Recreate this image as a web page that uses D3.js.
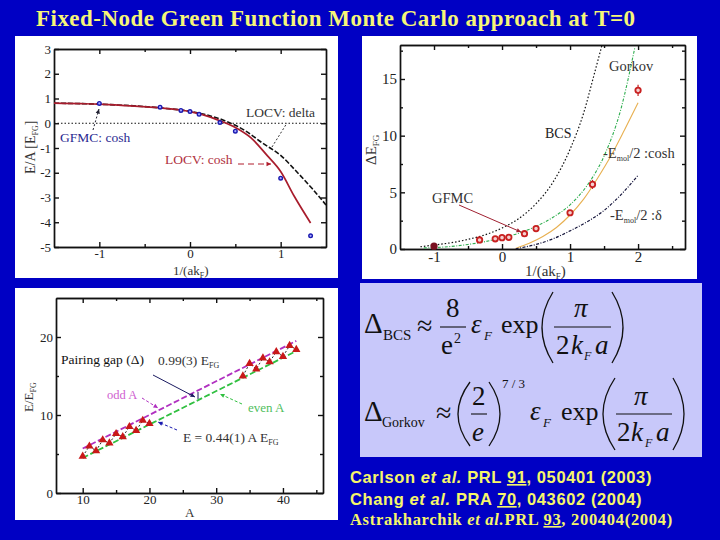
<!DOCTYPE html>
<html>
<head>
<meta charset="utf-8">
<title>Fixed-Node Green Function Monte Carlo</title>
<script src="https://cdn.jsdelivr.net/npm/d3@7/dist/d3.min.js"></script>
<style>
  html, body { margin: 0; padding: 0; background: #0000c4; }
  svg { display: block; }
  text { font-family: "Liberation Serif", serif; }
</style>
</head>
<body>
<svg id="slide" width="720" height="540"></svg>
<script>
// top left: energy per particle vs 1/(ak_F)
var gfmcX = [-1, -0.33, -0.1, 0, 0.1, 0.33, 0.5, 1, 1.33];
var gfmcY = [0.8, 0.65, 0.52, 0.47, 0.36, 0.03, -0.32, -2.22, -4.55];
var cuspCoshX = [-1.5, -1.2, -1, -0.7, -0.33, 0, 0.2, 0.33, 0.5, 0.67, 0.85, 1, 1.15, 1.33];
var cuspCoshY = [0.81, 0.79, 0.77, 0.71, 0.62, 0.47, 0.28, 0.1, -0.17, -0.58, -1.3, -1.95, -2.95, -4.03];
var locvDeltaX = [-1.5, -1, -0.33, 0, 0.2, 0.4, 0.6, 0.8, 1, 1.2, 1.35, 1.5];
var locvDeltaY = [0.81, 0.77, 0.62, 0.48, 0.32, 0.08, -0.28, -0.8, -1.3, -2.05, -2.65, -3.3];

// top right: pairing gap
var gapX = [-1, -0.33, -0.1, 0, 0.1, 0.33, 0.5, 1, 1.33, 2];
var gapY = [0.25, 0.8, 0.9, 1, 1.03, 1.35, 1.8, 3.2, 5.7, 14];
var gapErr = [0.1, 0.15, 0.1, 0.1, 0.1, 0.15, 0.2, 0.2, 0.4, 0.5];
var bcsX = [-1.2, -1, -0.75, -0.5, -0.25, 0, 0.25, 0.5, 0.75, 1, 1.2, 1.35, 1.47];
var bcsY = [0.2, 0.35, 0.55, 0.85, 1.25, 1.85, 2.7, 4, 5.9, 8.8, 12, 15.3, 18];
var gorkovX = [-1.15, -0.8, -0.5, -0.25, 0, 0.25, 0.5, 0.75, 1, 1.25, 1.5, 1.75, 1.95];
var gorkovY = [0.1, 0.2, 0.4, 0.65, 1, 1.4, 2, 2.8, 3.9, 5.6, 8.2, 12.4, 17.7];
var coshX = [0.2, 0.4, 0.6, 0.8, 1, 1.2, 1.4, 1.6, 1.8, 2];
var coshY = [0.05, 0.5, 1.1, 1.9, 3, 4.4, 6.2, 8.2, 10.5, 12.9];
var deltaX = [0.2, 0.5, 0.75, 1, 1.25, 1.5, 1.75, 2];
var deltaY = [0.02, 0.4, 0.9, 1.6, 2.4, 3.4, 4.8, 6.5];

// bottom left: ground state energy vs A
var evenA = [10, 12, 14, 16, 18, 20, 34, 36, 38, 40, 42];
var evenE = [4.7, 5.4, 6.4, 7.2, 8, 8.9, 15, 15.9, 16.8, 17.5, 18.4];
var oddA = [11, 13, 15, 17, 19, 35, 37, 39, 41];
var oddE = [6, 6.8, 7.6, 8.5, 9.3, 16.6, 17.3, 18.1, 18.9];
var evenFitA = [10, 42];
var evenFitE = [4.5, 18.2];
var oddFitA = [10, 42];
var oddFitE = [5.7, 19.5];
var zigzagA = [10, 11, 12, 13, 14, 15, 16, 17, 18, 19, 20];
var zigzagE = [4.7, 6, 5.4, 6.8, 6.4, 7.6, 7.2, 8.5, 8, 9.3, 8.9];
var zigzagA2 = [34, 35, 36, 37, 38, 39, 40, 41, 42];
var zigzagE2 = [15, 16.6, 15.9, 17.3, 16.8, 18.1, 17.5, 18.9, 18.4];

var tlXTicks = [-1, 0, 1];
var tlXMinor = [-0.5, 0.5];
var tlYTicks = [-5, -4, -3, -2, -1, 0, 1, 2, 3];
var trXTicks = [-1, 0, 1, 2];
var trXMinor = [-0.5, 0.5, 1.5, 2.5];
var trYTicks = [0, 5, 10, 15];
var trYMinor = [2.5, 7.5, 12.5, 17.5];
var blXTicks = [10, 20, 30, 40];
var blXMinor = [15, 25, 35, 45];
var blYTicks = [0, 10, 20];
var blYMinor = [5, 15];

var citations = [
  {y: 483, size: 16.5, spacing: 0.6, sans: true, parts: ["Carlson ", "et al.", " PRL ", "91", ", 050401 (2003)"]},
  {y: 505, size: 16.5, spacing: 0.6, sans: true, parts: ["Chang ", "et al.", "  PRA ", "70", ", 043602 (2004)"]},
  {y: 525, size: 16.5, spacing: 0.7, sans: false, parts: ["Astrakharchik ", "et al.", "PRL ", "93", ", 200404(2004)"]}
];

var svg = d3.select("#slide");

svg.append("text").attr("x", 36).attr("y", 26)
  .attr("fill", "#f6f678").attr("font-size", 23).attr("font-weight", "bold")
  .style("letter-spacing", "0.47px")
  .text("Fixed-Node Green Function Monte Carlo approach at T=0");

// draws white card, frame, axes; returns the scales and a group
function panel(card, box, xDom, yDom, xTicks, yTicks, xMinor, yMinor, fontSize) {
  svg.append("rect").attr("x", card[0]).attr("y", card[1])
    .attr("width", card[2]).attr("height", card[3]).attr("fill", "#fff");
  var x = d3.scaleLinear().domain(xDom).range([box[0], box[2]]);
  var y = d3.scaleLinear().domain(yDom).range([box[3], box[1]]);
  var g = svg.append("g");
  function ax(gen, tx, ty) {
    var a = g.append("g").attr("transform", "translate(" + tx + "," + ty + ")").call(gen);
    a.selectAll("path,line").attr("stroke", "#111").attr("stroke-width", 1.4);
    a.selectAll("text").attr("font-size", fontSize).attr("fill", "#222")
      .style("font-family", '"Liberation Serif", serif');
    return a;
  }
  var hyphen = function(d) { return String(d); };
  ax(d3.axisBottom(x).tickValues(xTicks).tickSize(-5).tickSizeOuter(0).tickPadding(2).tickFormat(hyphen), 0, box[3]);
  ax(d3.axisLeft(y).tickValues(yTicks).tickSize(-5).tickSizeOuter(0).tickPadding(3).tickFormat(hyphen), box[0], 0);
  ax(d3.axisTop(x).tickValues(xTicks).tickSize(-5).tickSizeOuter(0).tickFormat(""), 0, box[1]);
  ax(d3.axisRight(y).tickValues(yTicks).tickSize(-5).tickSizeOuter(0).tickFormat(""), box[2], 0);
  ax(d3.axisBottom(x).tickValues(xMinor).tickSize(-3).tickSizeOuter(0).tickFormat(""), 0, box[3]);
  ax(d3.axisTop(x).tickValues(xMinor).tickSize(-3).tickSizeOuter(0).tickFormat(""), 0, box[1]);
  ax(d3.axisLeft(y).tickValues(yMinor).tickSize(-3).tickSizeOuter(0).tickFormat(""), box[0], 0);
  ax(d3.axisRight(y).tickValues(yMinor).tickSize(-3).tickSizeOuter(0).tickFormat(""), box[2], 0);
  return {x: x, y: y, g: g};
}

function curve(p, xs, ys, color, width, dash, smooth) {
  var line = d3.line().x(function(d) { return p.x(d[0]); }).y(function(d) { return p.y(d[1]); });
  if (smooth) line.curve(d3.curveMonotoneX);
  p.g.append("path").datum(d3.zip(xs, ys)).attr("d", line)
    .attr("fill", "none").attr("stroke", color).attr("stroke-width", width)
    .attr("stroke-dasharray", dash);
}

function label(p, px, py, str, size, color, extra) {
  var t = p.g.append("text").attr("x", px).attr("y", py).attr("font-size", size).attr("fill", color);
  t.text(str);
  if (extra) extra(t);
  return t;
}

function sub(t, s, size) {
  t.append("tspan").attr("dy", 3).attr("font-size", size).text(s);
}

function arrow(p, x1, y1, x2, y2, color, dash) {
  p.g.append("line").attr("x1", x1).attr("y1", y1).attr("x2", x2).attr("y2", y2)
    .attr("stroke", color).attr("stroke-width", 1).attr("stroke-dasharray", dash);
  var a = Math.atan2(y2 - y1, x2 - x1), s = 5;
  var pts = [[x2, y2],
    [x2 - s * Math.cos(a - 0.45), y2 - s * Math.sin(a - 0.45)],
    [x2 - s * Math.cos(a + 0.45), y2 - s * Math.sin(a + 0.45)]];
  p.g.append("polygon").attr("points", pts.join(" ")).attr("fill", color);
}

// top left panel
var tl = panel([15, 36, 323, 242], [54, 49, 326, 247], [-1.5, 1.5], [-5, 3], tlXTicks, tlYTicks, tlXMinor, [], 13);
tl.g.append("line").attr("x1", tl.x(-1.5)).attr("x2", tl.x(1.5)).attr("y1", tl.y(0)).attr("y2", tl.y(0))
  .attr("stroke", "#111").attr("stroke-dasharray", "1.5,2");
curve(tl, locvDeltaX, locvDeltaY, "#111", 1.6, "5,2", true);
curve(tl, cuspCoshX, cuspCoshY, "#a81c2c", 1.7, null, true);
tl.g.selectAll("circle.gfmc").data(d3.zip(gfmcX, gfmcY)).enter().append("circle").attr("class", "gfmc")
  .attr("cx", function(d) { return tl.x(d[0]); }).attr("cy", function(d) { return tl.y(d[1]); })
  .attr("r", 1.8).attr("fill", "#a8a8ff").attr("stroke", "#1a1ab0").attr("stroke-width", 1.4);
label(tl, 246, 117, "LOCV: delta", 13.5, "#333");
label(tl, 60, 142, "GFMC: cosh", 13.5, "#2a2a90");
label(tl, 165, 164, "LOCV: cosh", 13.5, "#b03040");
arrow(tl, 238, 164, 271, 164, "#b01c2c", "6,4");
arrow(tl, 93, 130, 99, 109, "#223", "2,2");
tl.g.append("line").attr("x1", 272).attr("y1", 147).attr("x2", 287).attr("y2", 123)
  .attr("stroke", "#333").attr("stroke-dasharray", "2,2");
label(tl, 173, 275, "1/(ak", 13, "#333", function(t) { sub(t, "F", 8); t.append("tspan").attr("dy", -3).text(")"); });
label(tl, 0, 0, "E/A [E", 14, "#333", function(t) {
  t.attr("transform", "translate(35,174) rotate(-90)");
  sub(t, "FG", 8); t.append("tspan").attr("dy", -3).text("]");
});

// top right panel
var tr = panel([362, 36, 335, 243], [400, 45, 685, 249], [-1.5, 2.69], [0, 18], trXTicks, trYTicks, trXMinor, trYMinor, 15);
curve(tr, bcsX, bcsY, "#111", 1.2, "1.5,2", true);
curve(tr, gorkovX, gorkovY, "#2fae4f", 1.1, "3,1.5,1,1.5", true);
curve(tr, coshX, coshY, "#e8b050", 1.1, null, true);
curve(tr, deltaX, deltaY, "#16163c", 1.2, "3,1.5,1,1.5", true);
tr.g.selectAll("line.err").data(d3.zip(gapX, gapY, gapErr)).enter().append("line").attr("class", "err")
  .attr("x1", function(d) { return tr.x(d[0]); }).attr("x2", function(d) { return tr.x(d[0]); })
  .attr("y1", function(d) { return tr.y(d[1] - d[2]); }).attr("y2", function(d) { return tr.y(d[1] + d[2]); })
  .attr("stroke", "#c42020").attr("stroke-width", 1.2);
tr.g.selectAll("circle.gap").data(d3.zip(gapX, gapY)).enter().append("circle").attr("class", "gap")
  .attr("cx", function(d) { return tr.x(d[0]); }).attr("cy", function(d) { return tr.y(d[1]); })
  .attr("r", 2.7).attr("fill", function(d) { return d[0] == -1 ? "#7a1020" : "#f4d0d0"; })
  .attr("stroke", function(d) { return d[0] == -1 ? "#7a1020" : "#c82020"; }).attr("stroke-width", 1.8);
label(tr, 609, 71, "Gorkov", 14.5, "#333");
label(tr, 545, 138, "BCS", 14, "#222");
label(tr, 603, 158, "-E", 14.5, "#333", function(t) {
  sub(t, "mol", 8); t.append("tspan").attr("dy", -3).text("/2 :cosh");
});
label(tr, 610, 220, "-E", 14.5, "#333", function(t) {
  sub(t, "mol", 8); t.append("tspan").attr("dy", -3).text("/2 :δ");
});
label(tr, 432, 203, "GFMC", 14.5, "#333");
arrow(tr, 459, 205, 521, 232, "#a02030", null);
label(tr, 525, 276, "1/(ak", 15, "#333", function(t) { sub(t, "F", 9); t.append("tspan").attr("dy", -3).text(")"); });
label(tr, 0, 0, "ΔE", 15, "#333", function(t) {
  t.attr("transform", "translate(376,165) rotate(-90)");
  sub(t, "FG", 9);
});

// bottom left panel
var bl = panel([15, 288, 323, 232], [56, 298, 323, 493], [6, 46], [0, 25], blXTicks, blYTicks, blXMinor, blYMinor, 13);
curve(bl, evenFitA, evenFitE, "#30c040", 1.8, "6,2.5", false);
curve(bl, oddFitA, oddFitE, "#b030c0", 1.8, "6,2.5", false);
curve(bl, zigzagA, zigzagE, "#111", 0.9, "2,2", false);
curve(bl, zigzagA2, zigzagE2, "#111", 0.9, "2,2", false);
var tri = d3.symbol().type(d3.symbolTriangle).size(30);
bl.g.selectAll("path.mark").data(d3.zip(evenA.concat(oddA), evenE.concat(oddE))).enter().append("path").attr("class", "mark")
  .attr("d", tri)
  .attr("transform", function(d) { return "translate(" + bl.x(d[0]) + "," + bl.y(d[1]) + ")"; })
  .attr("fill", "#c81818");
label(bl, 61, 364, "Pairing gap (Δ)", 13.5, "#111");
label(bl, 158, 365, "0.99(3) E", 13.5, "#333", function(t) { sub(t, "FG", 8); });
label(bl, 107, 399, "odd A", 12.5, "#d060d0");
label(bl, 248, 412, "even A", 13, "#50c060");
label(bl, 183, 442, "E = 0.44(1) A E", 13.5, "#333", function(t) { sub(t, "FG", 8); });
arrow(bl, 142, 398, 158, 408, "#b030c0", "3,2");
arrow(bl, 242, 404, 220, 394, "#30c040", "3,2");
arrow(bl, 177, 430, 158, 422, "#1a1ab0", "3,2");
arrow(bl, 153, 375, 195, 397, "#1a1a60", null);
bl.g.append("line").attr("x1", 198).attr("x2", 198).attr("y1", 392).attr("y2", 399).attr("stroke", "#1a1a60");
label(bl, 185, 517, "A", 13, "#333");
label(bl, 0, 0, "E/E", 13, "#333", function(t) {
  t.attr("transform", "translate(33,412) rotate(-90)");
  sub(t, "FG", 8);
});

// formula panel
svg.append("rect").attr("x", 360).attr("y", 283).attr("width", 342).attr("height", 174).attr("fill", "#c8c8fa");
function math(px, py, str, size, style) {
  return svg.append("text").attr("x", px).attr("y", py).attr("font-size", size).attr("fill", "#111")
    .attr("font-style", style || "normal").text(str);
}
function rule(x1, x2, y1) {
  svg.append("line").attr("x1", x1).attr("x2", x2).attr("y1", y1).attr("y2", y1).attr("stroke", "#111").attr("stroke-width", 1.1);
}
// xEnd is where the tips sit, xMid where the bow reaches
function paren(xEnd, xMid, y0, y1) {
  var ctrl = 2 * xMid - xEnd;
  svg.append("path").attr("d", "M" + xEnd + "," + y0 + "Q" + ctrl + "," + ((y0 + y1) / 2) + " " + xEnd + "," + y1)
    .attr("fill", "none").attr("stroke", "#111").attr("stroke-width", 1.3);
}
math(364, 333, "Δ", 29);
math(383, 340, "BCS", 15);
math(417, 335, "≈", 28);
math(446, 317, "8", 27);
rule(440, 466, 327);
math(441, 354, "e", 27);
math(454, 343, "2", 14);
math(471, 333, "ε", 27, "italic");
math(484, 340, "F", 13, "italic");
math(501, 333, "exp", 26);
paren(553, 542, 292, 363);
math(574, 317, "π", 27, "italic");
rule(554, 611, 327);
math(556, 354, "2", 27);
math(571, 354, "k", 27, "italic");
math(584, 360, "F", 12, "italic");
math(595, 354, "a", 27, "italic");
paren(612, 623, 292, 363);

math(364, 421, "Δ", 29);
math(382, 427, "Gorkov", 14);
math(436, 422, "≈", 28);
paren(470, 458, 382, 446);
math(472, 405, "2", 27);
rule(471, 487, 414);
math(472, 441, "e", 27, "italic");
paren(489, 500, 382, 446);
math(502, 388, "7 / 3", 13);
math(530, 420, "ε", 27, "italic");
math(543, 427, "F", 13, "italic");
math(561, 420, "exp", 26);
paren(615, 603, 378, 450);
math(634, 405, "π", 27, "italic");
rule(616, 672, 414);
math(617, 441, "2", 27);
math(631, 441, "k", 27, "italic");
math(645, 447, "F", 12, "italic");
math(656, 441, "a", 27, "italic");
paren(673, 684, 378, 450);

// citations
citations.forEach(function(c) {
  var t = svg.append("text").attr("x", 350).attr("y", c.y).attr("fill", "#f6f66a")
    .attr("font-size", c.size).attr("font-weight", "bold")
    .style("letter-spacing", c.spacing + "px")
    .style("font-family", c.sans ? '"Liberation Sans", sans-serif' : '"Liberation Serif", serif');
  c.parts.forEach(function(s, i) {
    var span = t.append("tspan").text(s);
    if (i == 1) span.attr("font-style", "italic");
    if (i == 3) span.attr("text-decoration", "underline");
  });
});
</script>
</body>
</html>
